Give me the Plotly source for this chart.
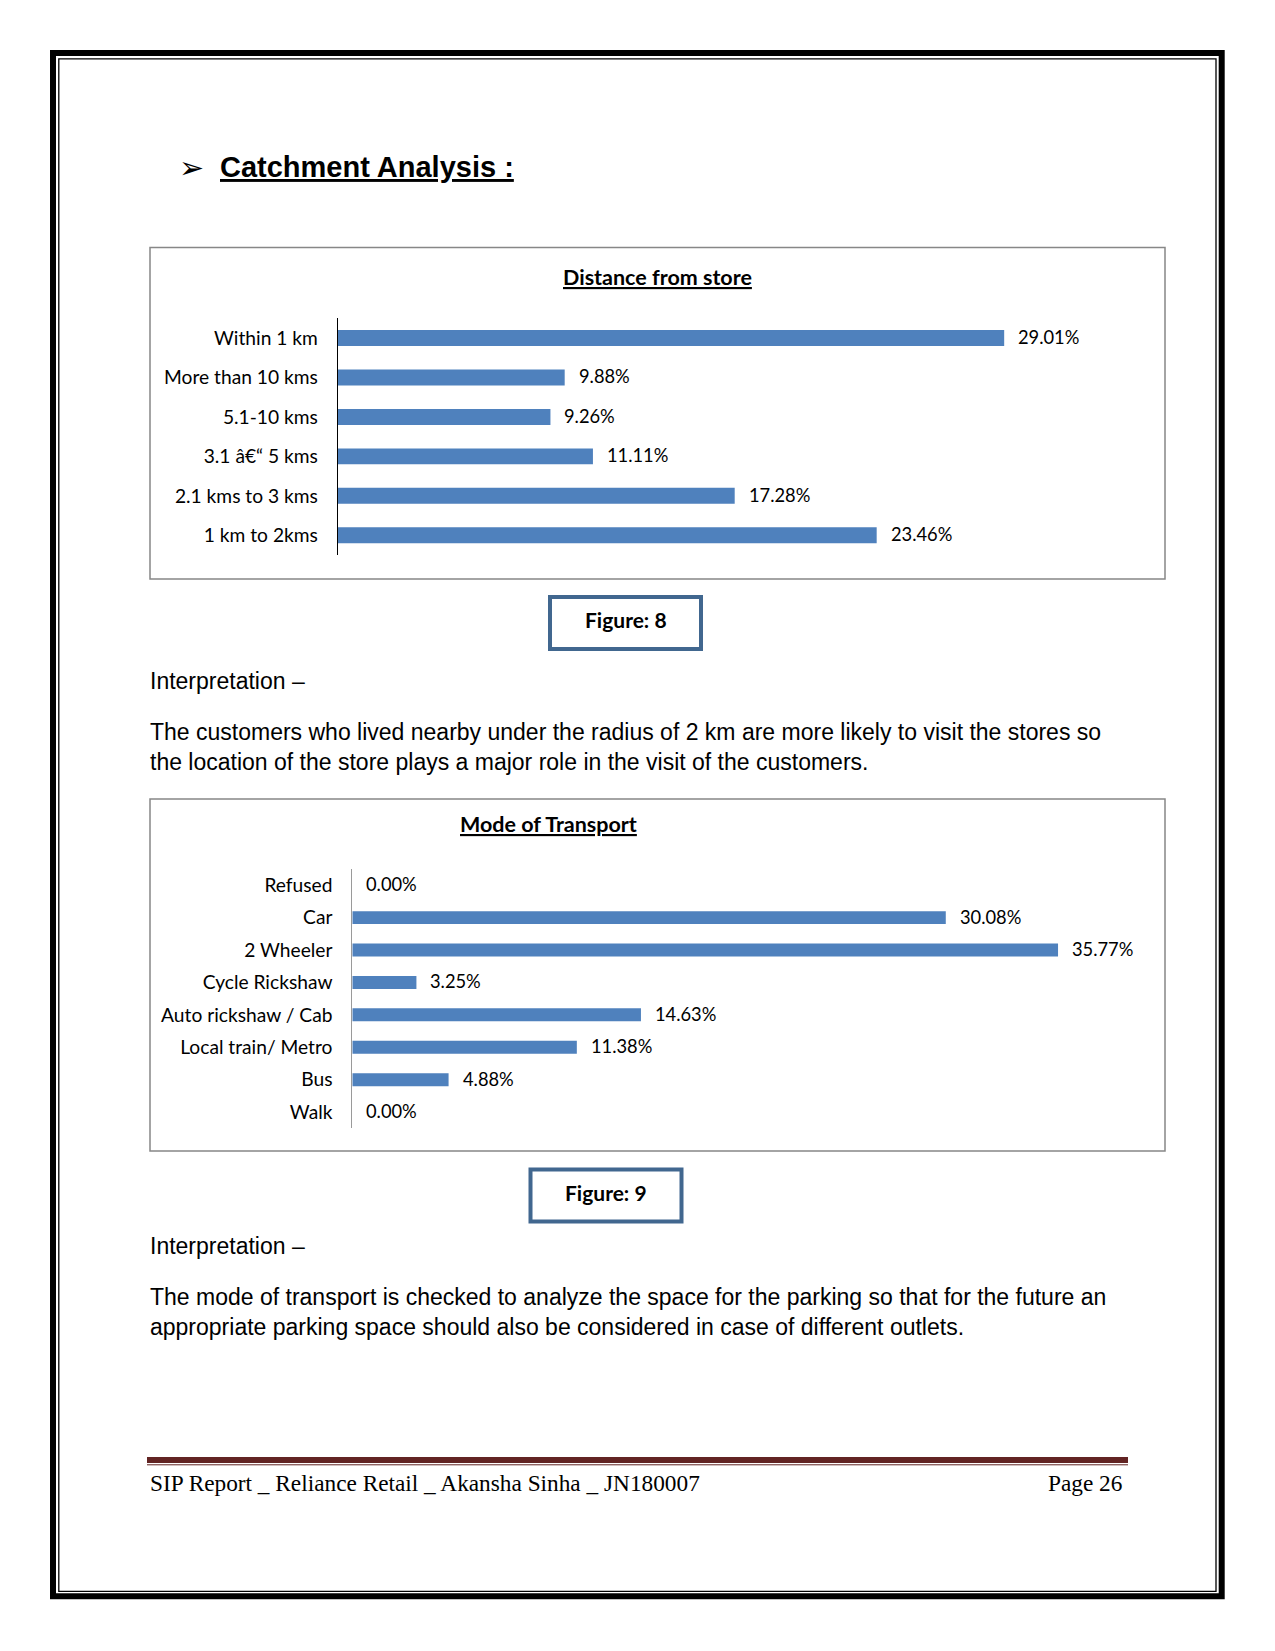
import plotly.graph_objects as go

W, H = 1275, 1651

# ---------------- data ----------------
dist_categories = ["Within 1 km", "More than 10 kms", "5.1-10 kms",
                   "3.1 \u00e2\u20ac\u201c 5 kms", "2.1 kms to 3 kms", "1 km to 2kms"]
dist_values = [29.01, 9.88, 9.26, 11.11, 17.28, 23.46]

mode_categories = ["Refused", "Car", "2 Wheeler", "Cycle Rickshaw",
                   "Auto rickshaw / Cab", "Local train/ Metro", "Bus", "Walk"]
mode_values = [0.00, 30.08, 35.77, 3.25, 14.63, 11.38, 4.88, 0.00]

chart1_title = "Distance from store"
chart2_title = "Mode of Transport"
page_heading = "Catchment Analysis :"
interp_label = "Interpretation \u2013"
interp1_lines = ["The customers who lived nearby under the radius of 2 km are more likely to visit the stores so",
                 "the location of the store plays a major role in the visit of the customers."]
interp2_lines = ["The mode of transport is checked to analyze the space for the parking so that for the future an",
                 "appropriate parking space should also be considered in case of different outlets."]
footer_left = "SIP Report _ Reliance Retail _ Akansha Sinha _ JN180007"
footer_right = "Page 26"

# ---------------- helpers (page pixel -> paper) ----------------
def fx(px):
    return px / W

def fy(py):
    return 1 - py / H

BAR = "#4F81BD"
CAL = "Lato, Carlito, Calibri, sans-serif"
ARIAL = "Liberation Sans, Arial, sans-serif"
SERIF = "Liberation Serif, Cambria, serif"

fig = go.Figure()

fig.add_trace(go.Bar(x=dist_values, y=dist_categories, orientation="h",
                     marker=dict(color=BAR, line=dict(width=0)),
                     xaxis="x", yaxis="y", hoverinfo="skip", showlegend=False))
fig.add_trace(go.Bar(x=mode_values, y=mode_categories, orientation="h",
                     marker=dict(color=BAR, line=dict(width=0)),
                     xaxis="x2", yaxis="y2", hoverinfo="skip", showlegend=False))

annotations = []
for c, v in zip(dist_categories, dist_values):
    annotations.append(dict(x=v, y=c, xref="x", yref="y", text=f"{v:.2f}%",
                            showarrow=False, xanchor="left", yanchor="middle", xshift=12, yshift=1,
                            font=dict(family=CAL, size=18.3, color="#000")))
for c, v in zip(mode_categories, mode_values):
    annotations.append(dict(x=v, y=c, xref="x2", yref="y2", text=f"{v:.2f}%",
                            showarrow=False, xanchor="left", yanchor="middle", xshift=12, yshift=1,
                            font=dict(family=CAL, size=18.3, color="#000")))

def txt(text, x, y, size, family=ARIAL, xanchor="left", color="#000", **kw):
    annotations.append(dict(x=fx(x), y=fy(y), xref="paper", yref="paper", text=text,
                            showarrow=False, xanchor=xanchor, yanchor="middle",
                            font=dict(family=family, size=size, color=color, **kw)))

# heading
txt("\u27a2", 192, 167.5, 30, family="DejaVu Sans", xanchor="center")
txt("<b>" + page_heading + "</b>", 218, 167, 29, lineposition="under")
# chart titles
txt("<b>" + chart1_title + "</b>", 657, 277, 21.5, family=CAL, xanchor="center", lineposition="under")
txt("<b>" + chart2_title + "</b>", 548, 824, 21.5, family=CAL, xanchor="center", lineposition="under")
# figure captions
txt("<b>Figure: 8</b>", 625.5, 619, 21, family=CAL, xanchor="center")
txt("<b>Figure: 9</b>", 606, 1192, 21, family=CAL, xanchor="center")
# interpretations
txt(interp_label, 148, 681, 23)
txt(interp1_lines[0], 148, 732, 23)
txt(interp1_lines[1], 148, 762, 23)
txt(interp_label, 148, 1246, 23)
txt(interp2_lines[0], 148, 1297, 23)
txt(interp2_lines[1], 148, 1327, 23)
# footer
txt(footer_left, 148, 1483, 23.3, family=SERIF)
txt(footer_right, 1124, 1483, 23.3, family=SERIF, xanchor="right")

shapes = []
def rect(x0, y0, x1, y1, color, width, fill=None):
    shapes.append(dict(type="rect", xref="paper", yref="paper",
                       x0=fx(x0), x1=fx(x1), y0=fy(y0), y1=fy(y1),
                       line=dict(color=color, width=width),
                       fillcolor=fill if fill else "rgba(0,0,0,0)", layer="above"))

# page borders
rect(53, 53, 1221.7, 1596.3, "#000", 6)
rect(58.8, 58.8, 1216, 1591.3, "#000", 1.3)
# chart frames
rect(150, 247.5, 1165, 579, "#878787", 1.5)
rect(150, 799, 1165, 1151, "#878787", 1.5)
# figure caption boxes
rect(550, 597, 701, 649, "#41678F", 4)
rect(530.5, 1169.5, 681.5, 1221.5, "#41678F", 4)
# footer rules
shapes.append(dict(type="rect", xref="paper", yref="paper", x0=fx(147), x1=fx(1128),
                   y0=fy(1463), y1=fy(1457), line=dict(width=0), fillcolor="#622423"))
shapes.append(dict(type="line", xref="paper", yref="paper", x0=fx(147), x1=fx(1128),
                   y0=fy(1464.8), y1=fy(1464.8), line=dict(width=1, color="#622423")))

n1 = len(dist_categories)
n2 = len(mode_categories)

fig.update_layout(
    width=W, height=H, margin=dict(l=0, r=0, t=0, b=0),
    paper_bgcolor="white", plot_bgcolor="rgba(0,0,0,0)",
    bargap=0.595, showlegend=False,
    xaxis=dict(domain=[fx(337.7), fx(1141.8)], range=[0, 35], visible=False, fixedrange=True),
    yaxis=dict(domain=[fy(555), fy(318.3)], anchor="x", type="category",
               categoryorder="array", categoryarray=dist_categories,
               range=[n1 - 0.5, -0.5], showline=True, linecolor="#000", linewidth=1,
               showgrid=False, zeroline=False, ticks="", ticklabelstandoff=15,
               tickfont=dict(family=CAL, size=19.2, color="#000")),
    xaxis2=dict(domain=[fx(352.3), fx(1141.5)], range=[0, 40], visible=False, anchor="y2"),
    yaxis2=dict(domain=[fy(1128.3), fy(869)], anchor="x2", type="category",
                categoryorder="array", categoryarray=mode_categories,
                range=[n2 - 0.5, -0.5], showline=True, linecolor="#9a9a9a", linewidth=1,
                showgrid=False, zeroline=False, ticks="", ticklabelstandoff=15,
                tickfont=dict(family=CAL, size=19.2, color="#000")),
    annotations=annotations, shapes=shapes,
)
fig.update_traces(width=0.405, selector=dict(xaxis="x"))
fig.update_traces(width=0.40, selector=dict(xaxis="x2"))

fig.write_html("out.html", config={"displayModeBar": False})
